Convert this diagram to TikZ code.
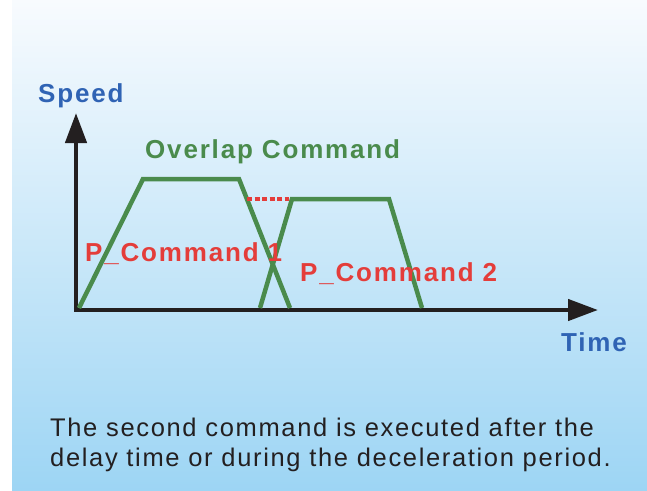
\documentclass[tikz,border=0pt]{standalone}
\usepackage{fontspec}
\setmainfont{Liberation Sans}
\usetikzlibrary{arrows.meta}
\definecolor{skytop}{HTML}{F8FBFE}
\definecolor{skybot}{HTML}{9DD5F4}
\definecolor{curvegreen}{HTML}{4A8B4C}
\definecolor{cmdred}{HTML}{E43D3A}
\definecolor{axisblue}{HTML}{2F63B4}
\definecolor{inkblack}{HTML}{231F20}
\newfontfamily\lblfont[LetterSpace=7]{Liberation Sans}
\newfontfamily\capfont[LetterSpace=6.5]{Liberation Sans}
\tikzset{
  axisline/.style={line width=4.5pt,draw=inkblack,-{Triangle[length=30pt,width=21pt]}},
  profile/.style={line width=4.5pt,draw=curvegreen,line join=miter},
  axislabel/.style={text=axisblue,font=\lblfont\bfseries\fontsize{26}{28}\selectfont,inner sep=0pt,anchor=base west},
  cmdlabel/.style={text=cmdred,font=\lblfont\bfseries\fontsize{26}{28}\selectfont,inner sep=0pt,anchor=base west},
}
\begin{document}
\begin{tikzpicture}[x=1pt,y=-1pt]
  \useasboundingbox (0,0) rectangle (647,490);
  \shade[top color=skytop,bottom color=skybot] (12,0) rectangle (647,490);

  \coordinate (o) at (76,310);
  \coordinate (ytip) at (76,113);
  \coordinate (xtip) at (598,310);
  \draw[axisline] ([yshift=2.2pt]o) -- (ytip);
  \draw[axisline] ([xshift=-2.2pt]o) -- (xtip);

  \draw[profile] (79,308) -- (143,179) -- (239,179) -- (290,308);
  \draw[profile] (260,308) -- (292,199) -- (389,199) -- (422,308);
  \draw[cmdred,line width=3.5pt,dash pattern=on 5pt off 2.5pt] (247,199) -- (289,199);

  \node[axislabel] (speed) at (38,102) {Speed};
  \node[axislabel] (time) at (561,351) {Time};
  \node[text=curvegreen,font=\lblfont\bfseries\fontsize{26}{28}\selectfont,inner sep=0pt,anchor=base west] (overlap) at (145,158) {Overlap Command};
  \node[cmdlabel] (cmd1) at (85,261) {P\_Command 1};
  \node[cmdlabel] (cmd2) at (300,281) {P\_Command 2};
  \node[text=inkblack,font=\capfont\fontsize{25.5}{30}\selectfont,align=left,inner sep=0pt,anchor=north west] (caption) at (50,417.5)
    {The second command is executed after the\\delay time or during the deceleration period.};
\end{tikzpicture}
\end{document}
